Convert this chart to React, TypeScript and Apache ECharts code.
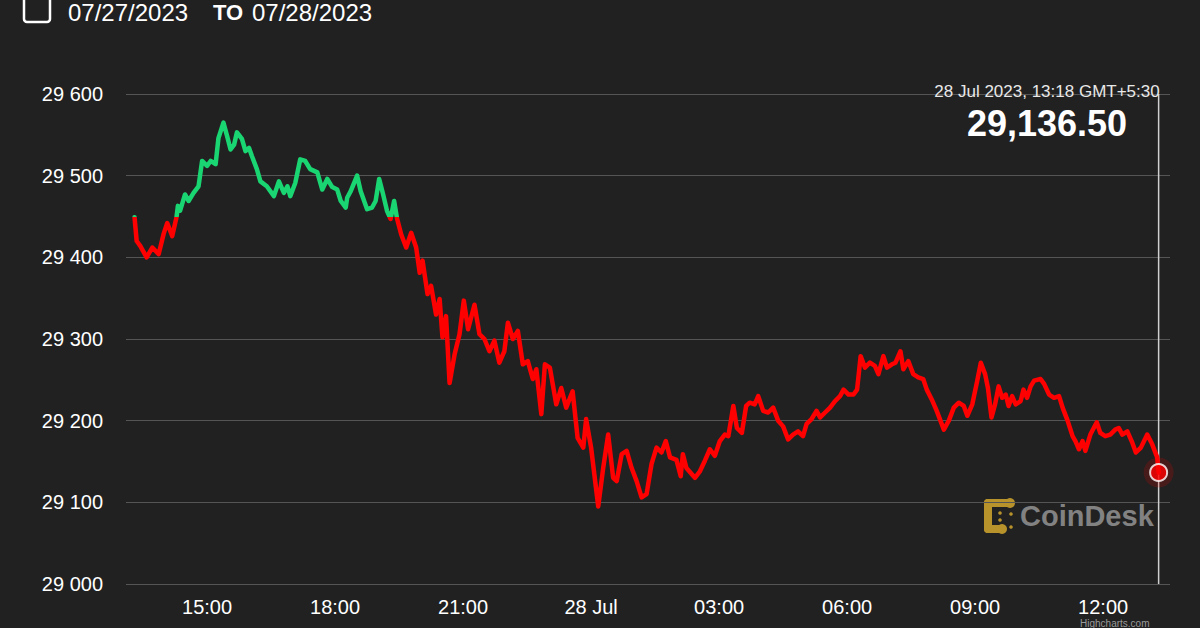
import React, { useEffect, useRef } from 'react';
import * as echarts from 'echarts';

// Time stamps (day of July 2023 + local time) and BTC prices
const times = [
  '27 13:18','27 13:21','27 13:26','27 13:35','27 13:43','27 13:52','27 13:59','27 14:04','27 14:11','27 14:17',
  '27 14:19','27 14:22','27 14:29','27 14:34','27 14:41','27 14:48','27 14:53','27 15:00','27 15:05','27 15:12',
  '27 15:16','27 15:23','27 15:28','27 15:33','27 15:38','27 15:42','27 15:49','27 15:54','27 15:59','27 16:03',
  '27 16:10','27 16:15','27 16:24','27 16:34','27 16:41','27 16:48','27 16:53','27 16:57','27 17:04','27 17:11',
  '27 17:18','27 17:25','27 17:35','27 17:42','27 17:49','27 17:56','27 18:03','27 18:08','27 18:15','27 18:17',
  '27 18:22','27 18:31','27 18:36','27 18:45','27 18:52','27 18:57','27 19:02','27 19:07','27 19:13','27 19:18',
  '27 19:23','27 19:27','27 19:33','27 19:40','27 19:47','27 19:54','27 19:59','27 20:03','27 20:10','27 20:15',
  '27 20:22','27 20:27','27 20:31','27 20:36','27 20:41','27 20:48','27 20:55','27 21:01','27 21:07','27 21:16',
  '27 21:23','27 21:30','27 21:37','27 21:44','27 21:51','27 21:58','27 22:03','27 22:10','27 22:17','27 22:24',
  '27 22:31','27 22:38','27 22:43','27 22:50','27 22:55','27 23:02','27 23:11','27 23:18','27 23:25','27 23:34',
  '27 23:41','27 23:49','27 23:53','28 00:00','28 00:10','28 00:17','28 00:24','28 00:31','28 00:36','28 00:43',
  '28 00:50','28 00:57','28 01:04','28 01:11','28 01:18','28 01:25','28 01:32','28 01:39','28 01:45','28 01:51',
  '28 02:00','28 02:06','28 02:09','28 02:14','28 02:26','28 02:33','28 02:40','28 02:47','28 02:54','28 03:01',
  '28 03:08','28 03:13','28 03:20','28 03:25','28 03:32','28 03:38','28 03:43','28 03:50','28 03:55','28 04:02',
  '28 04:09','28 04:16','28 04:23','28 04:30','28 04:37','28 04:44','28 04:51','28 04:58','28 05:03','28 05:10',
  '28 05:17','28 05:22','28 05:29','28 05:36','28 05:43','28 05:50','28 05:55','28 06:02','28 06:09','28 06:14',
  '28 06:19','28 06:25','28 06:32','28 06:39','28 06:44','28 06:51','28 06:56','28 07:03','28 07:08','28 07:15',
  '28 07:19','28 07:26','28 07:33','28 07:40','28 07:47','28 07:52','28 07:59','28 08:06','28 08:16','28 08:23',
  '28 08:30','28 08:37','28 08:44','28 08:49','28 08:56','28 09:03','28 09:08','28 09:14','28 09:18','28 09:23',
  '28 09:28','28 09:33','28 09:38','28 09:43','28 09:47','28 09:52','28 09:57','28 10:04','28 10:08','28 10:13',
  '28 10:18','28 10:23','28 10:32','28 10:37','28 10:44','28 10:51','28 10:58','28 11:03','28 11:10','28 11:17',
  '28 11:21','28 11:26','28 11:31','28 11:35','28 11:42','28 11:51','28 11:56','28 12:03','28 12:10','28 12:17',
  '28 12:22','28 12:27','28 12:34','28 12:41','28 12:46','28 12:53','28 13:02','28 13:09','28 13:16','28 13:18',
];

const prices = [
  29449,29420,29414,29400,29412,29404,29429,29442,29426,29449,
  29463,29457,29477,29469,29479,29487,29518,29512,29518,29514,
  29546,29565,29549,29532,29538,29553,29545,29530,29534,29524,
  29508,29493,29487,29475,29493,29479,29487,29475,29491,29520,
  29518,29508,29504,29483,29496,29486,29483,29469,29461,29473,
  29481,29500,29481,29459,29461,29469,29496,29479,29457,29447,
  29469,29448,29428,29412,29430,29412,29381,29396,29355,29365,
  29330,29349,29302,29328,29246,29281,29306,29347,29312,29342,
  29306,29300,29285,29298,29271,29285,29320,29300,29310,29269,
  29273,29251,29263,29208,29269,29265,29220,29240,29216,29236,
  29179,29167,29202,29167,29095,29142,29183,29130,29126,29159,
  29163,29142,29126,29106,29110,29147,29167,29161,29175,29155,
  29152,29132,29159,29142,29130,29138,29151,29165,29157,29175,
  29183,29181,29218,29191,29185,29218,29222,29220,29230,29212,
  29210,29216,29200,29193,29177,29183,29187,29181,29196,29202,
  29212,29204,29210,29216,29224,29230,29238,29232,29232,29238,
  29279,29265,29271,29267,29257,29279,29265,29269,29271,29285,
  29263,29273,29257,29253,29251,29238,29226,29212,29189,29200,
  29216,29222,29218,29206,29220,29249,29271,29257,29240,29204,
  29220,29242,29228,29232,29218,29230,29220,29224,29238,29228,
  29242,29249,29251,29245,29232,29228,29230,29216,29200,29181,
  29175,29165,29175,29163,29183,29198,29185,29181,29183,29189,
  29191,29183,29187,29173,29161,29167,29183,29171,29155,29136.5,
];

const xTickTimes = ['27 15:00','27 18:00','27 21:00','28 00:00','28 03:00','28 06:00','28 09:00','28 12:00'];
const xTickLabels = ['15:00','18:00','21:00','28 Jul','03:00','06:00','09:00','12:00'];
const axisStart = '27 13:06';
const axisEnd = '28 13:34';
const xStepHours = 3;
const yMin = 29000;
const yMax = 29600;
const yStep = 100;

const headerFrom = '07/27/2023';
const headerTo = '07/28/2023';
const headerSep = 'TO';
const lastLabel = '28 Jul 2023, 13:18 GMT+5:30';
const lastPriceText = '29,136.50';

const GREEN = '#19d672';
const RED = '#ff0000';
const FONT = '"Liberation Sans", Arial, Helvetica, sans-serif';

// hours since 27 Jul 2023 00:00
function toHours(s: string): number {
  const [d, hm] = s.split(' ');
  const [h, m] = hm.split(':').map(Number);
  return (Number(d) - 27) * 24 + h + m / 60;
}

export default function App() {
  const ref = useRef<HTMLDivElement>(null);

  useEffect(() => {
    if (!ref.current) return;
    const chart = echarts.init(ref.current, null, { renderer: 'svg' });
    const data = times.map((t, i) => [toHours(t), prices[i]]);
    const last = data[data.length - 1];
    const threshold = prices[0];
    const tickHours = xTickTimes.map(toHours);

    const staticGraphics: any[] = [
      {
        type: 'rect',
        shape: { x: 24, y: -6, width: 26, height: 28, r: 3 },
        style: { fill: 'none', stroke: '#ffffff', lineWidth: 2.5 },
      },
      {
        type: 'text',
        x: 68, y: 12,
        style: { text: headerFrom, fill: '#ffffff', font: `24px ${FONT}`, verticalAlign: 'middle' },
      },
      {
        type: 'text',
        x: 213, y: 12,
        style: { text: headerSep, fill: '#ffffff', font: `bold 22px ${FONT}`, verticalAlign: 'middle' },
      },
      {
        type: 'text',
        x: 252, y: 12,
        style: { text: headerTo, fill: '#ffffff', font: `24px ${FONT}`, verticalAlign: 'middle' },
      },
      {
        type: 'text',
        x: 1047, y: 91,
        style: { text: lastLabel, fill: '#e8e8e8', font: `17px ${FONT}`, align: 'center', verticalAlign: 'middle' },
        z: 10,
      },
      {
        type: 'text',
        x: 1047, y: 123,
        style: { text: lastPriceText, fill: '#ffffff', font: `bold 36px ${FONT}`, align: 'center', verticalAlign: 'middle' },
        z: 10,
      },
      {
        type: 'group',
        children: [
          { type: 'rect', shape: { x: 984, y: 499, width: 27, height: 8, r: 4 }, style: { fill: '#b8932c' } },
          { type: 'rect', shape: { x: 984, y: 499, width: 8, height: 34, r: 4 }, style: { fill: '#b8932c' } },
          { type: 'rect', shape: { x: 984, y: 525, width: 20, height: 8, r: 4 }, style: { fill: '#b8932c' } },
          { type: 'circle', shape: { cx: 1010, cy: 503, r: 5 }, style: { fill: '#b8932c' } },
          { type: 'circle', shape: { cx: 1002, cy: 529, r: 5 }, style: { fill: '#b8932c' } },
          { type: 'circle', shape: { cx: 1000, cy: 513, r: 1.8 }, style: { fill: '#b8932c' } },
          { type: 'circle', shape: { cx: 1000, cy: 520, r: 1.8 }, style: { fill: '#b8932c' } },
          { type: 'circle', shape: { cx: 1011, cy: 514, r: 1.8 }, style: { fill: '#b8932c' } },
          { type: 'circle', shape: { cx: 1011, cy: 527, r: 1.8 }, style: { fill: '#b8932c' } },
        ],
      },
      {
        type: 'text',
        x: 1020, y: 516,
        style: { text: 'CoinDesk', fill: '#828282', font: `bold 29px ${FONT}`, verticalAlign: 'middle' },
      },
      {
        type: 'text',
        x: 1080, y: 618,
        style: { text: 'Highcharts.com', fill: '#9a9a9a', font: `10px ${FONT}`, verticalAlign: 'top' },
      },
    ];

    chart.setOption({
      animation: false,
      backgroundColor: '#212121',
      grid: { left: 126, right: 30, top: 94, bottom: 44, containLabel: false },
      xAxis: {
        type: 'value',
        min: toHours(axisStart),
        max: toHours(axisEnd),
        splitNumber: 8,
        minInterval: xStepHours,
        maxInterval: xStepHours,
        axisLine: { show: false },
        axisTick: { show: false },
        splitLine: { show: false },
        axisLabel: {
          color: '#ffffff',
          fontSize: 20,
          fontFamily: FONT,
          margin: 13,
          formatter: (v: number) => {
            const idx = tickHours.findIndex((t) => Math.abs(t - v) < 1e-6);
            return idx >= 0 ? xTickLabels[idx] : '';
          },
        },
      },
      yAxis: {
        type: 'value',
        min: yMin,
        max: yMax,
        interval: yStep,
        axisLine: { show: false },
        axisTick: { show: false },
        splitLine: { show: true, lineStyle: { color: '#555555', width: 1 } },
        axisLabel: {
          color: '#ffffff',
          fontSize: 20,
          fontFamily: FONT,
          margin: 23,
          formatter: (v: number) => String(v).replace(/\B(?=(\d{3})+(?!\d))/g, ' '),
        },
      },
      series: [
        {
          type: 'line',
          data,
          showSymbol: false,
          symbol: 'none',
          lineStyle: { width: 4.5, color: RED, join: 'round', cap: 'round' },
          z: 3,
        },
        {
          type: 'scatter',
          data: [last],
          symbolSize: 30,
          itemStyle: { color: 'rgba(255,0,0,0.22)' },
          z: 4,
          silent: true,
        },
        {
          type: 'scatter',
          data: [last],
          symbolSize: 17,
          itemStyle: { color: RED, borderColor: '#ffffff', borderWidth: 2 },
          z: 5,
          silent: true,
        },
      ],
      graphic: staticGraphics,
    });

    // threshold colouring and crosshair, placed through the chart's own scales
    const top = chart.convertToPixel({ gridIndex: 0 }, [last[0], yMax]) as number[];
    const bottom = chart.convertToPixel({ gridIndex: 0 }, [last[0], yMin]) as number[];
    const thr = chart.convertToPixel({ gridIndex: 0 }, [last[0], threshold]) as number[];
    if (top && bottom && thr) {
      const f = (thr[1] - top[1]) / (bottom[1] - top[1]);
      chart.setOption({
        series: [
          {
            lineStyle: {
              width: 4.5,
              join: 'round',
              cap: 'round',
              color: {
                type: 'linear',
                global: true,
                x: 0, y: top[1], x2: 0, y2: bottom[1],
                colorStops: [
                  { offset: 0, color: GREEN },
                  { offset: f, color: GREEN },
                  { offset: f, color: RED },
                  { offset: 1, color: RED },
                ],
              },
            },
          },
        ],
        graphic: [
          ...staticGraphics,
          {
            type: 'line',
            shape: { x1: top[0], y1: top[1], x2: bottom[0], y2: bottom[1] },
            style: { stroke: '#d0d0d0', lineWidth: 1.5 },
            z: 1,
          },
        ],
      });
    }

    return () => chart.dispose();
  }, []);

  return (
    <div
      ref={ref}
      style={{ position: 'fixed', left: 0, top: 0, width: 1200, height: 628 }}
    />
  );
}
